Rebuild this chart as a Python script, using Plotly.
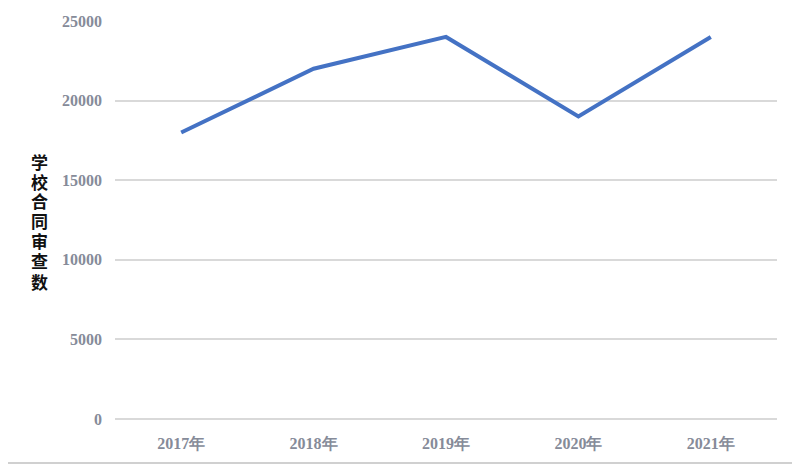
import plotly.graph_objects as go

years = ["2017年", "2018年", "2019年", "2020年", "2021年"]
counts = [18000, 22000, 24000, 19000, 24000]
y_ticks = [0, 5000, 10000, 15000, 20000, 25000]
y_tick_text = ["0", "5000", "10000", "15000", "20000", "25000"]
y_title = "学校合同审查数"

# page body has an 8px offset; compensate so the plot lands where the reference has it
OFF = 8
L, R, T, B = 115 - OFF, 23, 21 - OFF, 47
W, H = 800 - OFF, 466 - OFF
pw, ph = W - L - R, H - T - B

fig = go.Figure(go.Scatter(
    x=years, y=counts, mode="lines",
    line=dict(color="#4472C4", width=4),
))

tickfont = dict(family="Liberation Serif", size=16, color="#868b99", weight="bold")
fig.update_layout(
    width=W, height=H,
    margin=dict(l=L, r=R, t=T, b=B, autoexpand=False),
    paper_bgcolor="white", plot_bgcolor="white",
    showlegend=False,
    xaxis=dict(type="category", range=[-0.5, 4.5], showgrid=False, showline=False,
               ticks="", tickfont=tickfont, ticklabelstandoff=13),
    yaxis=dict(range=[0, 25000], tickvals=y_ticks, ticktext=y_tick_text,
               showgrid=True, gridcolor="#d9d9d9",
               gridwidth=1.5, zeroline=True, zerolinecolor="#d9d9d9", zerolinewidth=1.5,
               showline=False, ticks="", tickfont=tickfont, ticklabelstandoff=12),
)

# vertical stacked axis title, one character per annotation
pitch = 20
y_center_px = 221 - OFF  # in figure pixels
n = len(y_title)
for i, ch in enumerate(y_title):
    ypx = y_center_px + (i - (n - 1) / 2) * pitch
    fig.add_annotation(
        text=ch, xref="paper", yref="paper",
        x=(39 - 115) / pw, y=(T + ph - ypx) / ph,
        xanchor="center", yanchor="middle", showarrow=False,
        font=dict(family="Noto Sans CJK SC", size=17, color="#111111", weight="bold"),
    )

fig.add_shape(
    type="rect", xref="paper", yref="paper",
    x0=(2 - 115) / pw, x1=(795 - 115) / pw,
    y0=(419 - 463) / ph, y1=(419 - 2) / ph,
    line=dict(color="#d0d0d0", width=2), fillcolor="rgba(0,0,0,0)", layer="below",
)

fig.write_html("out.html")
